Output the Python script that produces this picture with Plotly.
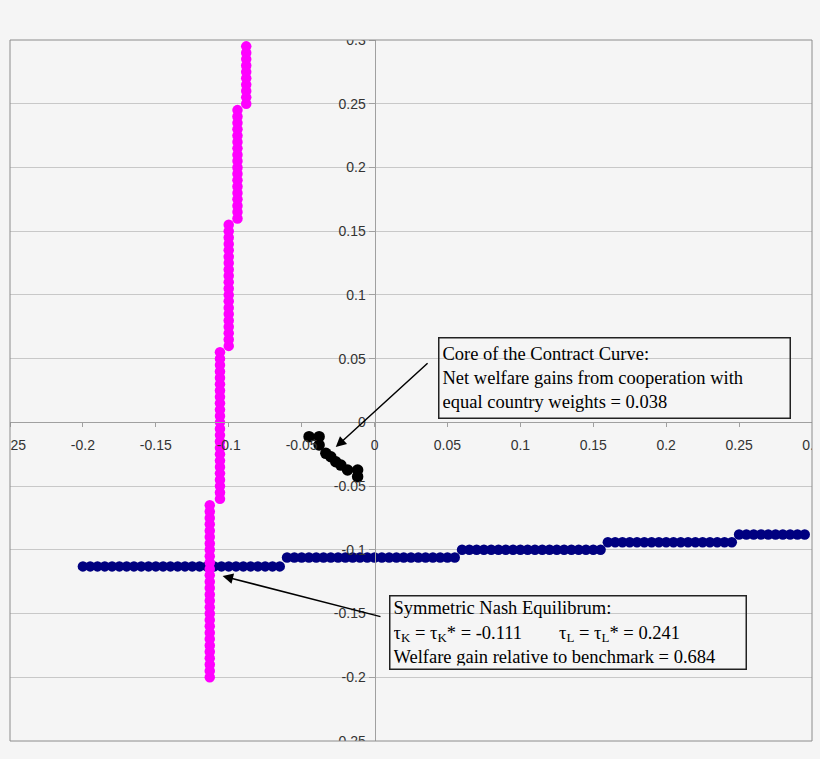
import plotly.graph_objs as go

# Data: own tax rate grid and the (step-like) best responses
own_rate = [
    -0.2, -0.195, -0.19, -0.185, -0.18, -0.175, -0.17, -0.165, -0.16, -0.155,
    -0.15, -0.145, -0.14, -0.135, -0.13, -0.125, -0.12, -0.115, -0.11, -0.105,
    -0.1, -0.095, -0.09, -0.085, -0.08, -0.075, -0.07, -0.065, -0.06, -0.055,
    -0.05, -0.045, -0.04, -0.035, -0.03, -0.025, -0.02, -0.015, -0.01, -0.005,
    0.0, 0.005, 0.01, 0.015, 0.02, 0.025, 0.03, 0.035, 0.04, 0.045,
    0.05, 0.055, 0.06, 0.065, 0.07, 0.075, 0.08, 0.085, 0.09, 0.095,
    0.1, 0.105, 0.11, 0.115, 0.12, 0.125, 0.13, 0.135, 0.14, 0.145,
    0.15, 0.155, 0.16, 0.165, 0.17, 0.175, 0.18, 0.185, 0.19, 0.195,
    0.2, 0.205, 0.21, 0.215, 0.22, 0.225, 0.23, 0.235, 0.24, 0.245,
    0.25, 0.255, 0.26, 0.265, 0.27, 0.275, 0.28, 0.285, 0.29, 0.295,
]
best_response = [-0.113] * 28 + [-0.106] * 24 + [-0.100] * 20 + [-0.094] * 18 + [-0.088] * 10

core_x = [-0.0449, -0.038, -0.038, -0.0334, -0.030, -0.0266, -0.0231, -0.0185, -0.0116, -0.0116]
core_y = [-0.0112, -0.0112, -0.0178, -0.0243, -0.027, -0.0309, -0.0335, -0.0374, -0.0374, -0.0426]

tick_vals = [-0.25, -0.2, -0.15, -0.1, -0.05, 0, 0.05, 0.1, 0.15, 0.2, 0.25, 0.3]
tick_text = ['-0.25', '-0.2', '-0.15', '-0.1', '-0.05', '0', '0.05', '0.1', '0.15', '0.2', '0.25', '0.3']

bg = '#f5f5f5'

fig = go.Figure()

# home best response (navy)
fig.add_trace(go.Scatter(
    x=own_rate, y=best_response, mode='markers',
    marker=dict(size=10.5, color='#000080'),
))
# foreign best response (magenta)
fig.add_trace(go.Scatter(
    x=best_response, y=own_rate, mode='markers',
    marker=dict(size=10.5, color='#ff00ff'),
))
# core of the contract curve
fig.add_trace(go.Scatter(
    x=core_x, y=core_y, mode='markers',
    marker=dict(size=11.5, color='black'),
))

zero_pos = 0.25 / 0.55

fig.update_xaxes(
    range=[-0.25, 0.3], tickvals=tick_vals, ticktext=tick_text,
    anchor='free', position=zero_pos, showgrid=False, zeroline=False,
    showline=True, linecolor='#a0a0a0', linewidth=1, automargin=False,
    ticks='outside', ticklen=4, tickcolor='#a0a0a0', ticklabelstandoff=6,
    ticklabeloverflow='allow', tickfont=dict(size=14, color='#333333'),
)
fig.update_yaxes(
    range=[-0.25, 0.3], tickvals=tick_vals, ticktext=tick_text,
    anchor='free', position=zero_pos, showgrid=True, gridcolor='#c8c8c8',
    zeroline=False, showline=True, linecolor='#a0a0a0', linewidth=1, automargin=False,
    ticks='outside', ticklen=6, tickcolor='#a0a0a0',
    ticklabeloverflow='allow', tickfont=dict(size=14, color='#333333'),
)

# clip labels that fall outside the plot frame, then draw the frame
shapes = []
for x0, x1, y0, y1 in [(-0.1, 1.1, 1, 1.2), (-0.1, 1.1, -0.1, 0), (-0.1, 0, -0.1, 1.2), (1, 1.1, -0.1, 1.2)]:
    shapes.append(dict(type='rect', xref='paper', yref='paper', x0=x0, x1=x1, y0=y0, y1=y1,
                       fillcolor=bg, line=dict(width=0), layer='above'))
shapes.append(dict(type='rect', xref='paper', yref='paper', x0=0, x1=1, y0=0, y1=1,
                   line=dict(color='#8c8c8c', width=1), layer='above'))

serif = 'Times New Roman, Liberation Serif, serif'
gap = '\u00a0' * 8
annotations = [
    dict(x=0.0436, y=0.067, xref='x', yref='y', xanchor='left', yanchor='top',
         text='Core of the Contract Curve:<br>Net welfare gains from cooperation with<br>'
              'equal country weights = 0.038',
         align='left', showarrow=False, width=344, height=73, borderpad=3,
         bordercolor='#222222', borderwidth=1.5, font=dict(family=serif, size=18.5, color='black')),
    dict(x=0.0099, y=-0.1355, xref='x', yref='y', xanchor='left', yanchor='top',
         text='Symmetric Nash Equilibrum:<br>τ<sub>K</sub> = τ<sub>K</sub>* = -0.111' + gap +
              'τ<sub>L</sub> = τ<sub>L</sub>* = 0.241<br>Welfare gain relative to benchmark = 0.684',
         align='left', showarrow=False, width=349, height=66, borderpad=3,
         bordercolor='#222222', borderwidth=1.5, font=dict(family=serif, size=18.5, color='black')),
    dict(x=-0.0266, y=-0.0194, xref='x', yref='y', ax=0.0374, ay=0.0474, axref='x', ayref='y',
         text='', showarrow=True, arrowhead=2, arrowsize=1.4, arrowwidth=1.5, arrowcolor='black'),
    dict(x=-0.1042, y=-0.1206, xref='x', yref='y', ax=0.0051, ay=-0.1527, axref='x', ayref='y',
         text='', showarrow=True, arrowhead=2, arrowsize=1.4, arrowwidth=1.5, arrowcolor='black'),
]

fig.update_layout(
    width=820, height=759, autosize=False,
    margin=dict(l=10, r=8, t=40, b=18),
    paper_bgcolor=bg, plot_bgcolor=bg,
    font=dict(family='Liberation Sans, Arial, sans-serif'),
    showlegend=False,
    shapes=shapes,
    annotations=annotations,
)

fig.write_html(
    "out.html",
    config={'responsive': False, 'displayModeBar': False},
    default_width='820px', default_height='759px',
    post_script="document.body.style.margin='0';document.body.style.overflow='hidden';",
)
